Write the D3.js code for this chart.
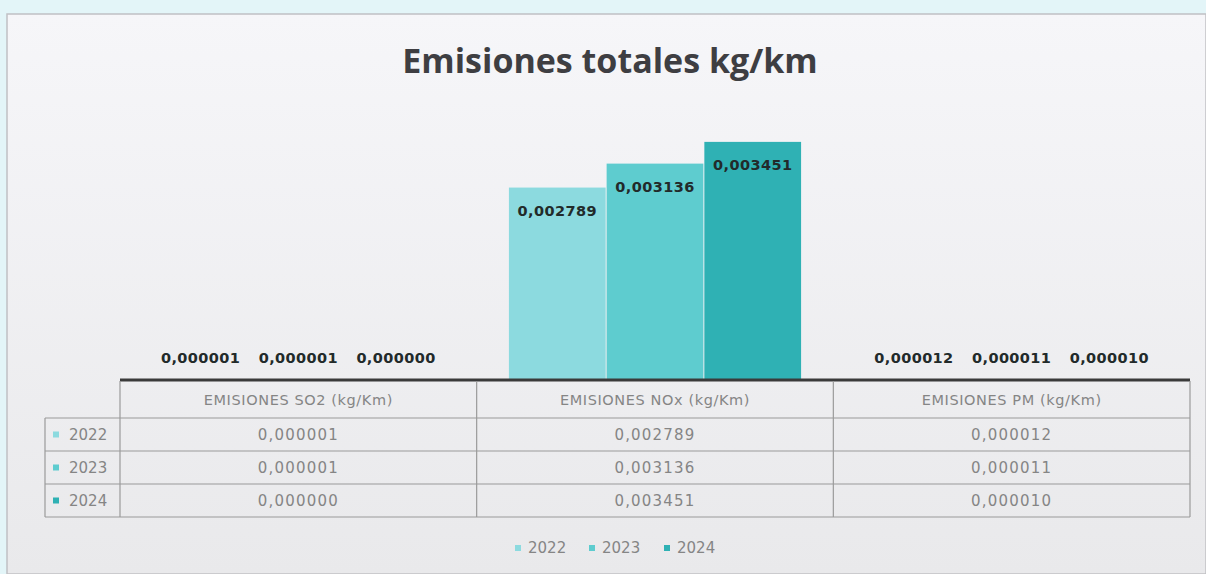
<!DOCTYPE html>
<html lang="es">
<head>
    <meta charset="UTF-8">
    <title>Emisiones totales kg/km</title>
    <script src="https://d3js.org/d3.v7.min.js"></script>
    <style>
        body { margin: 0; background: #e3f5f8; }
        svg { display: block; font-family: "Open Sans", "DejaVu Sans", sans-serif; }
        .grid line { stroke: #9a9a9a; stroke-width: 1.2px; }
        .cell { fill: #858585; font-size: 15px; font-family: "DejaVu Sans", sans-serif; }
        .val { letter-spacing: 1.2px; }
        .head { letter-spacing: 0.6px; font-size: 14.5px; }
        .barlabel { font-family: "DejaVu Sans", sans-serif; font-size: 14.5px; font-weight: 700; fill: #222a2a; letter-spacing: 0.4px; }
    </style>
</head>
<body>
    <svg width="1206" height="574"></svg>
    <script>
        const categories = ["EMISIONES SO2 (kg/Km)", "EMISIONES NOx (kg/Km)", "EMISIONES PM (kg/Km)"];
        const years = ["2022", "2023", "2024"];
        const values2022 = [0.000001, 0.002789, 0.000012];
        const values2023 = [0.000001, 0.003136, 0.000011];
        const values2024 = [0.000000, 0.003451, 0.000010];
        const colors = ["#8cdadf", "#5ecccf", "#2fb1b4"];

        const series = [values2022, values2023, values2024];
        const fmt = v => v.toFixed(6).replace(".", ",");

        const svg = d3.select("svg");

        const defs = svg.append("defs");
        const grad = defs.append("linearGradient").attr("id", "card").attr("x1", 0).attr("y1", 0).attr("x2", 0).attr("y2", 1);
        grad.append("stop").attr("offset", "0%").attr("stop-color", "#f6f6f9");
        grad.append("stop").attr("offset", "100%").attr("stop-color", "#e9e9eb");

        // card
        svg.append("rect").attr("x", 7).attr("y", 14).attr("width", 1199).attr("height", 560)
            .attr("fill", "url(#card)").attr("stroke", "#c0c0c4").attr("stroke-width", 1.5);

        svg.append("text")
            .attr("x", 610).attr("y", 73)
            .attr("text-anchor", "middle")
            .attr("font-size", 34).attr("font-weight", 700)
            .attr("fill", "#3e3e42")
            .text("Emisiones totales kg/km");

        const left = 120, right = 1190, base = 380;

        const x0 = d3.scaleBand().domain(categories).range([left, right]).paddingInner(0).paddingOuter(0);
        const x1 = d3.scaleBand().domain(years).range([0, x0.bandwidth()]).paddingOuter(0.33).paddingInner(0.01);
        const y = d3.scaleLinear().domain([0, 0.004]).range([base, 104]);

        const groups = svg.append("g").selectAll("g")
            .data(categories)
            .join("g")
            .attr("transform", d => `translate(${x0(d)},0)`);

        years.forEach((yr, s) => {
            groups.append("rect")
                .attr("x", x1(yr))
                .attr("y", (d, i) => y(series[s][i]))
                .attr("width", x1.bandwidth())
                .attr("height", (d, i) => base - y(series[s][i]))
                .attr("fill", colors[s]);

            groups.append("text")
                .attr("class", "barlabel")
                .attr("x", x1(yr) + x1.bandwidth() / 2)
                .attr("y", (d, i) => {
                    const top = y(series[s][i]);
                    return base - top > 40 ? top + 28 : base - 17;
                })
                .attr("text-anchor", "middle")
                .text((d, i) => fmt(series[s][i]));
        });

        // axis line
        svg.append("line").attr("x1", left).attr("x2", right).attr("y1", base).attr("y2", base)
            .attr("stroke", "#3a3a3a").attr("stroke-width", 3);

        // data table
        const rowY = [381, 418, 451, 484, 517];
        const legendLeft = 45;
        const grid = svg.append("g").attr("class", "grid");
        rowY.slice(1).forEach(ry => {
            grid.append("line").attr("x1", legendLeft).attr("x2", right).attr("y1", ry).attr("y2", ry);
        });
        grid.append("line").attr("x1", legendLeft).attr("x2", legendLeft).attr("y1", rowY[1]).attr("y2", rowY[4]);
        [left, x0(categories[1]), x0(categories[2]), right].forEach(cx => {
            grid.append("line").attr("x1", cx).attr("x2", cx).attr("y1", rowY[0]).attr("y2", rowY[4]);
        });

        categories.forEach((c, i) => {
            const cx = x0(c) + x0.bandwidth() / 2;
            svg.append("text").attr("class", "cell head")
                .attr("x", cx).attr("y", (rowY[0] + rowY[1]) / 2 + 5)
                .attr("text-anchor", "middle").text(c);
            series.forEach((vals, s) => {
                svg.append("text").attr("class", "cell val")
                    .attr("x", cx).attr("y", (rowY[s + 1] + rowY[s + 2]) / 2 + 5)
                    .attr("text-anchor", "middle").text(fmt(vals[i]));
            });
        });

        years.forEach((yr, s) => {
            const cy = (rowY[s + 1] + rowY[s + 2]) / 2;
            svg.append("rect").attr("x", 53).attr("y", cy - 3).attr("width", 6).attr("height", 6).attr("fill", colors[s]);
            svg.append("text").attr("class", "cell").attr("x", 69).attr("y", cy + 5).text(yr);
        });

        // legend
        const legend = svg.append("g").attr("transform", "translate(515,548)");
        const legX = [0, 74, 149];
        years.forEach((yr, s) => {
            legend.append("rect").attr("x", legX[s]).attr("y", -3).attr("width", 6).attr("height", 6).attr("fill", colors[s]);
            legend.append("text").attr("class", "cell").attr("x", legX[s] + 13).attr("y", 5).text(yr);
        });
    </script>
</body>
</html>
